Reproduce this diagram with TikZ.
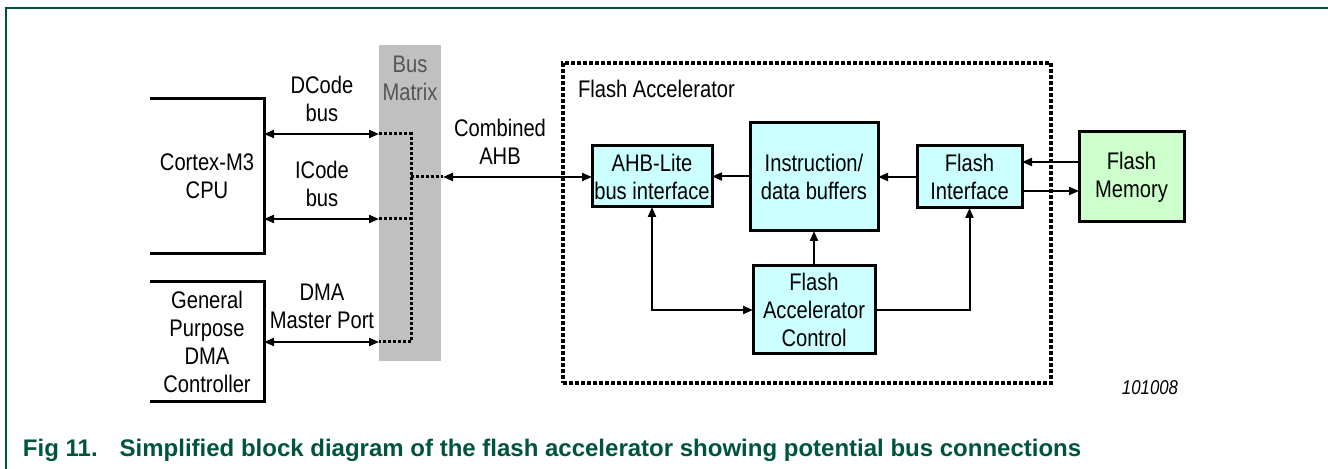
\documentclass[tikz,border=0pt]{standalone}
\usepackage{fontspec}
\setmainfont{Liberation Sans}
\newfontfamily\narrowsf[FakeStretch=0.84]{Liberation Sans}
\usetikzlibrary{arrows.meta,calc}
\definecolor{nxpgreen}{RGB}{0,84,62}
\definecolor{boxcyan}{RGB}{204,255,255}
\definecolor{boxgreen}{RGB}{204,255,204}
\definecolor{busgray}{RGB}{192,192,192}
\definecolor{bustext}{RGB}{85,85,85}
\begin{document}
\begin{tikzpicture}[x=0.5pt,y=-0.5pt,
  every node/.style={font=\narrowsf\fontsize{12}{14}\selectfont, inner sep=0pt, outer sep=0pt, align=center},
  blk/.style={draw, line width=1.5pt, fill=boxcyan},
  tip/.style={-{Triangle[length=5pt,width=4pt]}},
  biarr/.style={{Triangle[length=5pt,width=4pt]}-{Triangle[length=5pt,width=4pt]}},
  conn/.style={line width=1pt},
  dots/.style={line width=1.5pt, dash pattern=on 1.5pt off 1pt},
  openbox/.style={line width=1.5pt}
  ]
\useasboundingbox (0,0) rectangle (1328,469);
\draw[nxpgreen, line width=1pt] (6,469) -- (6,8) -- (1328,8);

% left blocks
\node[minimum width=57pt, minimum height=77.5pt] (cpu) at (207,176.5) {Cortex-M3\\CPU};
\draw[openbox] (cpu.north west) -- (cpu.north east) -- (cpu.south east) -- (cpu.south west);
\node[minimum width=57pt, minimum height=60pt] (dma) at (207,342) {General\\Purpose\\DMA\\Controller};
\draw[openbox] (dma.north west) -- (dma.north east) -- (dma.south east) -- (dma.south west);

% bus matrix
\node[fill=busgray, minimum width=31pt, minimum height=158pt] (bm) at (410,203) {};
\node[text=bustext] (bmt) at (410,78.5) {Bus\\Matrix};

% flash accelerator
\node[draw, line width=1.75pt, dash pattern=on 2pt off 1pt, minimum width=244pt, minimum height=160pt] (fa) at (807,223) {};
\node[anchor=west] (fat) at (578,89) {Flash Accelerator};

\node[blk, minimum width=60pt, minimum height=30.5pt] (ahb) at (652,176.5) {AHB-Lite\\bus interface};
\node[blk, minimum width=64pt, minimum height=54pt] (buf) at (814,177) {Instruction/\\data buffers};
\node[blk, minimum width=52.5pt, minimum height=31pt] (fi) at (969.5,177) {Flash\\Interface};
\node[blk, minimum width=61pt, minimum height=44pt] (fac) at (814,310) {Flash\\Accelerator\\Control};
\node[blk, fill=boxgreen, minimum width=52.5pt, minimum height=45pt] (fm) at (1131.5,177) {Flash\\Memory};

% bus connections
\coordinate (jd) at (379,134);
\coordinate (ji) at (379,219);
\coordinate (jm) at (379,342);
\coordinate (jc) at (443,177);
\coordinate (bd) at (411,134);
\coordinate (bi) at (411,219);
\coordinate (bmm) at (411,342);
\coordinate (bc) at (411,177);

\draw[conn,biarr] (cpu.east |- jd) -- (jd);
\draw[conn,biarr] (cpu.east |- ji) -- (ji);
\draw[conn,biarr] (dma.east |- jm) -- (jm);
\draw[dots] (jd) -- (bd) -- (bmm) -- (jm);
\draw[dots] (ji) -- (bi);
\draw[dots] (bc) -- (jc);
\draw[conn,biarr] (jc) -- (ahb.west |- jc);

\node (ldc) at (322,99) {DCode\\bus};
\node (lic) at (322,184) {ICode\\bus};
\node (ldm) at (322,306.5) {DMA\\Master Port};
\node (lca) at (500,141.5) {Combined\\AHB};

% internal connections
\draw[conn,tip] (buf.west |- ahb.east) -- (ahb.east);
\draw[conn,tip] (fi.west) -- (fi.west -| buf.east);
\draw[conn,tip] (fac.north) -- (buf.south);
\draw[conn,biarr] (ahb.south) |- (fac.west);
\draw[conn,tip] (fac.east) -| (fi.south);
\draw[conn,tip] ([yshift=7.5pt]fm.west) -- ([yshift=7.5pt]fm.west -| fi.east);
\draw[conn,tip] ([yshift=-7pt]fi.east) -- ([yshift=-7pt]fi.east -| fm.west);

\node[font=\narrowsf\itshape\fontsize{10}{12}\selectfont] (id) at (1150,388) {101008};
\node[anchor=base west, text=nxpgreen, font=\bfseries\fontsize{12}{14}\selectfont] (cap) at (23,457) {Fig 11.\hspace{11pt}Simplified block diagram of the flash accelerator showing potential bus connections};
\end{tikzpicture}
\end{document}
